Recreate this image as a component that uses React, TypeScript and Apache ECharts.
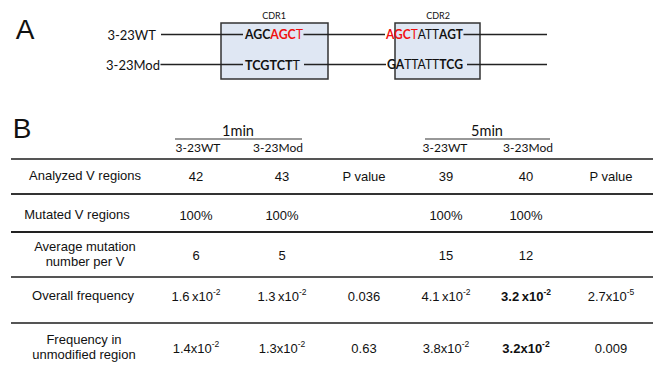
import React, { useEffect, useRef } from "react";
import * as echarts from "echarts";

// ---------- Panel A data ----------
const strains = ["3-23WT", "3-23Mod"];
const cdrLabels = ["CDR1", "CDR2"];
// sequence segments: [style key, text]; b = bold, r = red, rb = red bold, n = normal
const cdr1Seqs: string[][][] = [
  [["b", "AGC"], ["rb", "AGC"], ["r", "T"]],
  [["b", "TCGTCT"], ["n", "T"]],
];
const cdr2Seqs: string[][][] = [
  [["rb", "AGC"], ["r", "T"], ["n", "ATT"], ["b", "AGT"]],
  [["b", "GA"], ["n", "TTATT"], ["b", "TCG"]],
];

// ---------- Panel B data ----------
const timepoints = ["1min", "5min"];
const subHeaders = ["3-23WT", "3-23Mod"];
const rowLabels = [
  "Analyzed V regions",
  "Mutated V regions",
  "Average mutation\nnumber per V",
  "Overall frequency",
  "Frequency in\nunmodified region",
];
const wt1 = ["42", "100%", "6", "1.6\u2009x10^-2", "1.4x10^-2"];
const mod1 = ["43", "100%", "5", "1.3\u2009x10^-2", "1.3x10^-2"];
const p1 = ["P value", "", "", "0.036", "0.63"];
const wt5 = ["39", "100%", "15", "4.1\u2009x10^-2", "3.8x10^-2"];
const mod5 = ["40", "100%", "12", "3.2\u2009x10^-2", "3.2x10^-2"];
const p5 = ["P value", "", "", "2.7x10^-5", "0.009"];
const mod5Bold = [false, false, false, true, true];

const ARIAL = "'Liberation Sans', Arial, sans-serif";
const CAL = "Lato, 'Open Sans', sans-serif";
const RED = "#f01010";
const INK = "#111";
const SEQ_SIZE = 13;

function seqRich(segs: string[][]) {
  return segs.map(([k, t]) => `{${k}|${t}}`).join("");
}
const seqRichStyles = {
  b: { fontFamily: CAL, fontSize: SEQ_SIZE, fontWeight: "bold", fill: INK },
  n: { fontFamily: CAL, fontSize: SEQ_SIZE, fontWeight: "normal", fill: INK },
  r: { fontFamily: CAL, fontSize: SEQ_SIZE, fontWeight: "normal", fill: RED },
  rb: { fontFamily: CAL, fontSize: SEQ_SIZE, fontWeight: "bold", fill: RED },
};

function valueText(v: string, bold: boolean) {
  const w = bold ? "bold" : "normal";
  const rich = {
    m: { fontFamily: ARIAL, fontSize: 13, fontWeight: w, fill: INK, lineHeight: 16, verticalAlign: "bottom" },
    s: { fontFamily: ARIAL, fontSize: 8.5, fontWeight: w, fill: INK, lineHeight: 9, verticalAlign: "top" },
  };
  if (v.includes("^")) {
    const [a, b] = v.split("^");
    return { text: `{m|${a}}{s|${b}}`, rich };
  }
  return { text: `{m|${v}}`, rich };
}

export default function App() {
  const ref = useRef<HTMLDivElement>(null);
  useEffect(() => {
    document.body.style.margin = "0";
    const chart = echarts.init(ref.current!, null, { renderer: "svg" });
    const cvs = document.createElement("canvas");
    const ctx = cvs.getContext("2d")!;
    const measureSeq = (segs: string[][]) =>
      segs.reduce((acc, [k, t]) => {
        ctx.font = `${k === "b" || k === "rb" ? "bold" : "normal"} ${SEQ_SIZE}px Lato`;
        return acc + ctx.measureText(t).width;
      }, 0);

    const els: any[] = [];
    const line = (x1: number, y1: number, x2: number, y2: number, stroke = "#222", lw = 1.5) =>
      els.push({ type: "line", silent: true, shape: { x1, y1, x2, y2 }, style: { stroke, lineWidth: lw } });
    const text = (x: number, y: number, t: string, extra: any = {}) =>
      els.push({
        type: "text",
        silent: true,
        x,
        y,
        style: { text: t, align: "center", verticalAlign: "middle", fill: INK, fontFamily: ARIAL, fontSize: 13, ...extra },
      });

    // ---------- Panel A ----------
    text(25, 29, "A", { fontSize: 28 });
    els.push({ type: "rect", silent: true, shape: { x: 221, y: 23, width: 107, height: 56 }, style: { fill: "#dfe7f3", stroke: "#333", lineWidth: 1.5 } });
    els.push({ type: "rect", silent: true, shape: { x: 395, y: 23, width: 85, height: 56 }, style: { fill: "#dfe7f3", stroke: "#333", lineWidth: 1.5 } });
    text(274, 15, cdrLabels[0], { fontFamily: CAL, fontSize: 9 });
    text(438, 15, cdrLabels[1], { fontFamily: CAL, fontSize: 9 });
    const seqY = [34.5, 64.5];
    const labelRight = [156, 160];
    // sequence spans [start, end] in the figure
    const cdr1Span = [[245, 303], [245, 300]];
    const cdr2Span = [[386, 463], [387, 463]];
    const gapAfter = [0.5, 4];
    strains.forEach((s, i) => {
      const y = seqY[i];
      text(labelRight[i], y, s, { align: "right", fontFamily: CAL, fontSize: 13 });
      line(labelRight[i] + (i === 0 ? 5 : 0.5), y, cdr1Span[i][0] - 2, y);
      line(cdr1Span[i][1] + gapAfter[i], y, cdr2Span[i][0] - 1, y);
      line(cdr2Span[i][1] + gapAfter[i], y, 547, y);
      const w1 = measureSeq(cdr1Seqs[i]);
      const w2 = measureSeq(cdr2Seqs[i]);
      els.push({
        type: "text", silent: true, x: cdr1Span[i][0], y,
        scaleX: (cdr1Span[i][1] - cdr1Span[i][0]) / w1,
        style: { text: seqRich(cdr1Seqs[i]), rich: seqRichStyles, align: "left", verticalAlign: "middle", fontFamily: CAL, fontSize: SEQ_SIZE },
      });
      els.push({
        type: "text", silent: true, x: cdr2Span[i][0], y,
        scaleX: (cdr2Span[i][1] - cdr2Span[i][0]) / w2,
        style: { text: seqRich(cdr2Seqs[i]), rich: seqRichStyles, align: "left", verticalAlign: "middle", fontFamily: CAL, fontSize: SEQ_SIZE },
      });
    });

    // ---------- Panel B ----------
    text(22, 128, "B", { fontSize: 28 });
    const colX = [196, 282, 364, 446, 526, 611];
    const tpX = [238, 487];
    const tpLine = [[175, 302], [425, 550]];
    timepoints.forEach((t, i) => {
      text(tpX[i], 130, t, { fontFamily: CAL, fontSize: 14.5 });
      line(tpLine[i][0], 139, tpLine[i][1], 139, "#333", 1.2);
    });
    const subX = [198, 278, 445, 528];
    subX.forEach((x, i) => text(x, 147.5, subHeaders[i % 2], { fontFamily: CAL, fontSize: 12 }));

    const hLines = [159, 194, 232, 277, 323];
    const hColors = ["#555", "#333", "#222", "#555", "#555"];
    hLines.forEach((y, i) => line(11, y, 653, y, hColors[i], 2));

    const rowY = [175, 214, 254, 295, 347];
    const labelX = [85, 77, 85, 83, 84];
    rowLabels.forEach((l, r) => text(labelX[r], rowY[r], l, { lineHeight: 15 }));
    const cols = [wt1, mod1, p1, wt5, mod5, p5];
    cols.forEach((col, c) => {
      col.forEach((v, r) => {
        if (!v) return;
        const bold = c === 4 && mod5Bold[r];
        const vt = valueText(v, bold);
        els.push({
          type: "text", silent: true, x: colX[c], y: rowY[r],
          style: { text: vt.text, rich: vt.rich, align: "center", verticalAlign: "middle", fontFamily: ARIAL, fontSize: 13, fill: INK },
        });
      });
    });

    chart.setOption({ animation: false, graphic: { elements: els } });
    return () => chart.dispose();
  }, []);
  return <div ref={ref} style={{ width: 653, height: 365 }} />;
}
